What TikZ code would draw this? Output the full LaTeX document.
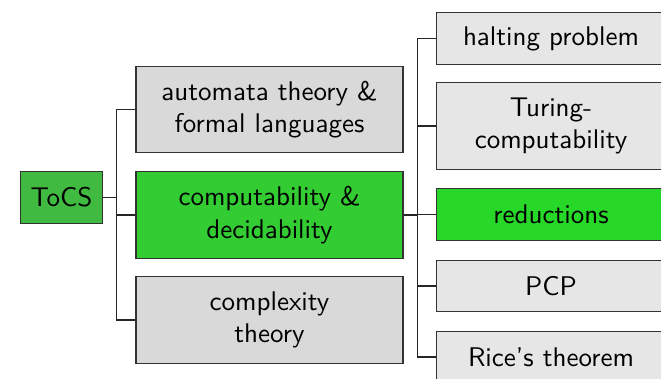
\documentclass[tikz,border=0pt]{standalone}
\definecolor{rootgreen}{RGB}{64,186,64}
\definecolor{midgreen}{RGB}{51,204,51}
\definecolor{leafgreen}{RGB}{40,216,40}
\definecolor{midgray}{RGB}{217,217,217}
\definecolor{leafgray}{RGB}{230,230,230}
\begin{document}
\begin{tikzpicture}[x=0.37pt,y=-0.37pt,font=\sffamily,
    topic/.style={draw=black!80,fill=midgray,align=center,inner sep=0pt,
      minimum width=98.8pt,minimum height=32pt},
    subtopic/.style={draw=black!80,fill=leafgray,align=center,inner sep=0pt,
      minimum width=85pt,minimum height=19pt},
    link/.style={draw=black!85,line width=0.4pt}]
            \useasboundingbox (0,0) rectangle (661,379);
            \node[draw=black!80,fill=rootgreen,inner sep=0pt,minimum width=30pt,minimum height=19pt] (tocs) at (61.5,197.5) {ToCS};
            \node[topic] (automata) at (269.5,109.5) {automata theory \&\\formal languages};
            \node[topic,fill=midgreen] (comp) at (269.5,215) {computability \&\\decidability};
            \node[topic] (complexity) at (269.5,320) {complexity\\theory};
            \node[subtopic] (halting) at (551,38.5) {halting problem};
            \node[subtopic,minimum height=32pt] (turing) at (551,126) {Turing-\\computability};
            \node[subtopic,fill=leafgreen] (reductions) at (551,214.5) {reductions};
            \node[subtopic] (pcp) at (551,286) {PCP};
            \node[subtopic] (rice) at (551,357) {Rice's theorem};
            \foreach \child in {automata,comp,complexity}
              \draw[link] (tocs.east) -- ++(14,0) |- (\child.west);
            \foreach \child in {halting,turing,reductions,pcp,rice}
              \draw[link] (comp.east) -- ++(14,0) |- (\child.west);
          \end{tikzpicture}
\end{document}
